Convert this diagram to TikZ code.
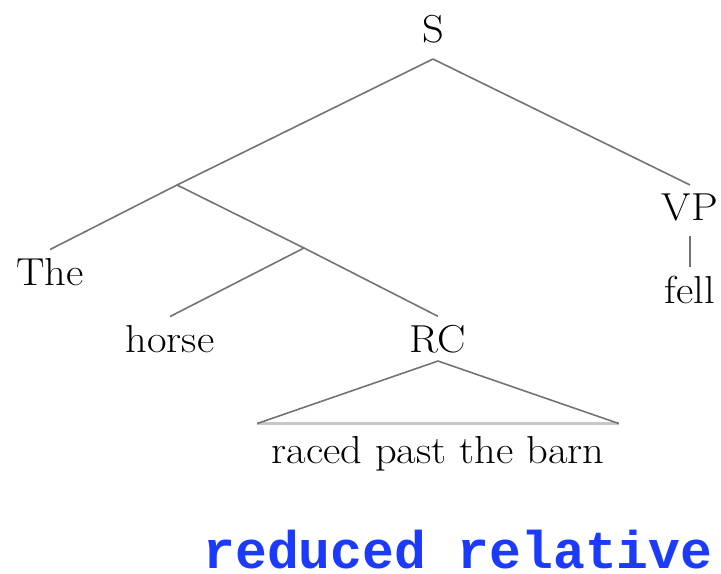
\documentclass[tikz,border=0pt]{standalone}
\usepackage{fontspec}
\usepackage{xcolor}
\usetikzlibrary{positioning}
\newfontfamily\treefont{Latin Modern Roman}[FakeStretch=1.09]
\newfontfamily\tagfont{Liberation Mono}
\definecolor{edgegray}{gray}{0.45}
\definecolor{basegray}{gray}{0.78}
\definecolor{tagblue}{RGB}{28,58,250}

\begin{document}
\begin{tikzpicture}[x=0.5pt, y=-0.5pt,
        treenode/.style={font=\treefont\fontsize{19.5}{23}\selectfont, inner sep=4pt, anchor=base},
        edge/.style={edgegray, line width=0.8pt}]
    \useasboundingbox (0,0) rectangle (721,573);
    % categories and words, placed on their baselines
    \node[treenode, inner ysep=8pt] (S) at (433, 42) {S};
    \node[treenode] (VP) at (690, 220) {VP};
    \node[treenode] (fell) at (690, 303) {fell};
    \node[treenode] (The) at (50, 285) {The};
    \node[treenode] (horse) at (170, 352) {horse};
    \node[treenode] (RC) at (438, 352) {RC};
    \node[treenode, inner xsep=7pt, inner ysep=6pt] (raced) at (438, 463) {raced past the barn};
    % unlabelled branching points
    \coordinate (np) at (177, 185);
    \coordinate (nbar) at (304, 248);
    % branches
    \draw[edge] (S.south) -- (np) -- (The.north);
    \draw[edge] (S.south) -- (VP.north);
    \draw[edge, shorten <=3.5pt] (VP.south) -- (fell.north);
    \draw[edge] (np) -- (nbar) -- (RC.north);
    \draw[edge] (nbar) -- (horse.north);
    % triangle over the unanalysed clause
    \draw[basegray, line width=1.5pt] (raced.north west) -- (raced.north east);
    \draw[edge] (raced.north west) -- (RC.south) -- (raced.north east);
    \node[anchor=base, inner sep=0pt, text=tagblue, font=\tagfont\bfseries\fontsize{26.5}{30}\selectfont] (tag) at (458, 568) {reduced relative};
\end{tikzpicture}
\end{document}
